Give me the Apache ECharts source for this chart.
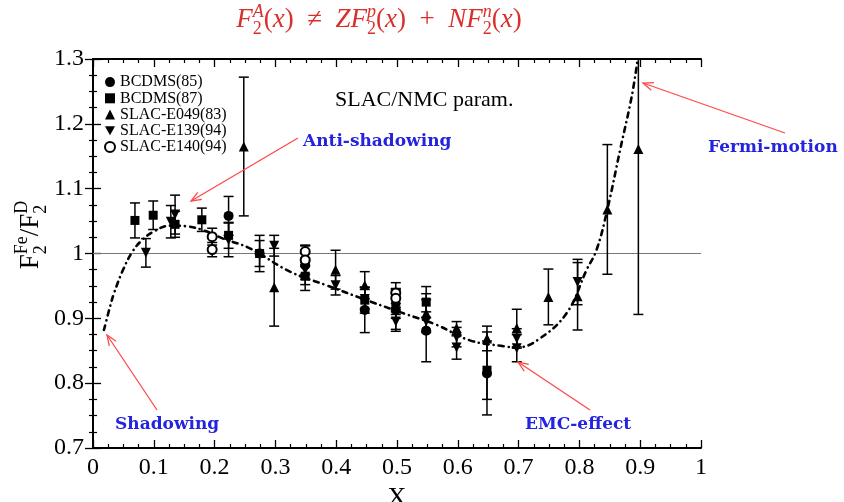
<!DOCTYPE html>
<html>
<head>
<meta charset="utf-8">
<script src="https://cdn.jsdelivr.net/npm/echarts@6/dist/echarts.min.js"></script>
<style>
  html, body { margin: 0; padding: 0; background: #fff; }
  #chart { width: 844px; height: 502px; }
</style>
</head>
<body>
<div id="chart"></div>
<script>
// Tick labels
const xTickLabels = ['0', '0.1', '0.2', '0.3', '0.4', '0.5', '0.6', '0.7', '0.8', '0.9', '1'];
const yTickLabels = ['0.7', '0.8', '0.9', '1', '1.1', '1.2', '1.3'];

// BCDMS(85)
const bcdms85X   = [0.223, 0.274, 0.349, 0.447, 0.498, 0.548, 0.648];
const bcdms85Y   = [1.058, 1.000, 0.982, 0.913, 0.913, 0.881, 0.815];
const bcdms85Err = [0.030, 0.028, 0.030, 0.035, 0.030, 0.048, 0.064];

// BCDMS(87)
const bcdms87X   = [0.069, 0.099, 0.135, 0.179, 0.223, 0.274, 0.349, 0.447, 0.498, 0.548, 0.648];
const bcdms87Y   = [1.051, 1.059, 1.045, 1.052, 1.028, 1.000, 0.965, 0.928, 0.926, 0.925, 0.820];
const bcdms87Err = [0.027, 0.022, 0.020, 0.018, 0.020, 0.020, 0.022, 0.020, 0.020, 0.024, 0.045];

// SLAC-E049(83)
const e049X   = [0.248, 0.298, 0.349, 0.399, 0.447, 0.498, 0.548, 0.598, 0.648, 0.697, 0.749, 0.797, 0.846, 0.897];
const e049Y   = [1.165, 0.948, 0.990, 0.975, 0.951, 0.920, 0.908, 0.885, 0.869, 0.885, 0.933, 0.934, 1.068, 1.161];
const e049Err = [0.107, 0.060, 0.022, 0.030, 0.021, 0.020, 0.030, 0.010, 0.019, 0.029, 0.043, 0.052, 0.100, 0.255];

// SLAC-E139(94)
const e139X   = [0.087, 0.135, 0.128, 0.223, 0.298, 0.349, 0.399, 0.447, 0.498, 0.548, 0.598, 0.598, 0.697, 0.697, 0.797];
const e139Y   = [1.001, 1.060, 1.049, 1.021, 1.012, 0.975, 0.951, 0.930, 0.895, 0.895, 0.871, 0.855, 0.869, 0.854, 0.956];
const e139Err = [0.022, 0.030, 0.025, 0.026, 0.016, 0.015, 0.015, 0.015, 0.015, 0.015, 0.015, 0.018, 0.015, 0.021, 0.035];

// SLAC-E140(94)
const e140X   = [0.196, 0.196, 0.349, 0.349, 0.498, 0.498];
const e140Y   = [1.026, 1.006, 1.003, 0.990, 0.939, 0.931];
const e140Err = [0.013, 0.011, 0.010, 0.010, 0.016, 0.014];

// SLAC/NMC parametrisation
const paramX = [0.018, 0.028, 0.035, 0.050, 0.065, 0.080, 0.100, 0.127, 0.154, 0.181, 0.214, 0.258,
                0.324, 0.384, 0.456, 0.510, 0.565, 0.620, 0.675, 0.697, 0.732, 0.779, 0.812, 0.828,
                0.846, 0.867, 0.886, 0.896];
const paramY = [0.882, 0.918, 0.940, 0.976, 1.003, 1.020, 1.034, 1.043, 1.042, 1.036, 1.023, 1.008,
                0.972, 0.951, 0.926, 0.908, 0.890, 0.866, 0.857, 0.855, 0.867, 0.908, 0.975, 1.005,
                1.068, 1.160, 1.242, 1.300];

const SERIF = '"Liberation Serif", "DejaVu Serif", serif';
const BOLDSERIF = '"DejaVu Serif", serif';

function pts(xs, ys) { return xs.map((x, i) => [x, ys[i]]); }
function bars(xs, ys, es) { return xs.map((x, i) => [x, ys[i] - es[i], ys[i] + es[i]]); }

function renderErr(params, api) {
  const x = api.value(0), lo = api.value(1), hi = api.value(2);
  const t = api.coord([x, hi]), b = api.coord([x, lo]);
  const hw = 5;
  const style = { stroke: '#000', lineWidth: 1.5, fill: null };
  return {
    type: 'group',
    children: [
      { type: 'line', shape: { x1: t[0], y1: t[1], x2: b[0], y2: b[1] }, style },
      { type: 'line', shape: { x1: t[0] - hw, y1: t[1], x2: t[0] + hw, y2: t[1] }, style },
      { type: 'line', shape: { x1: b[0] - hw, y1: b[1], x2: b[0] + hw, y2: b[1] }, style }
    ]
  };
}

function errSeries(xs, ys, es) {
  return {
    type: 'custom', renderItem: renderErr, clip: true, silent: true, z: 3,
    encode: { x: 0, y: [1, 2] }, data: bars(xs, ys, es)
  };
}

// text measurement for the composed formulas
const ctx = document.createElement('canvas').getContext('2d');
function fontStr(p, family) {
  return (p.i ? 'italic ' : '') + (p.b ? 'bold ' : '') + p.s + 'px ' + family;
}
function layoutPieces(pieces, family, color) {
  let x = 0, pendingW = null;
  const out = [];
  pieces.forEach(p => {
    const f = fontStr(p, family);
    ctx.font = f;
    const w = ctx.measureText(p.t).width;
    out.push({ p, f, x });
    if (p.stack) { pendingW = w; return; }
    if (pendingW !== null) { x += Math.max(w, pendingW); pendingW = null; }
    else x += w;
  });
  const total = x;
  return out.map(o => ({
    type: 'text',
    style: {
      text: o.p.t, font: o.f, fill: color,
      x: o.x - total / 2, y: (o.p.dy || 0) - 0.33 * o.p.s,
      align: 'left', verticalAlign: 'middle'
    }
  }));
}

const titlePieces = [
  { t: 'F', s: 27, i: true }, { t: 'A', s: 18, i: true, dy: -11, stack: true }, { t: '2', s: 18, dy: 6 },
  { t: '(', s: 27 }, { t: 'x', s: 27, i: true }, { t: ')', s: 27 },
  { t: '  \u2260  ', s: 27 },
  { t: 'Z', s: 27, i: true }, { t: 'F', s: 27, i: true }, { t: 'p', s: 18, i: true, dy: -11, stack: true }, { t: '2', s: 18, dy: 6 },
  { t: '(', s: 27 }, { t: 'x', s: 27, i: true }, { t: ')', s: 27 },
  { t: '  +  ', s: 27 },
  { t: 'N', s: 27, i: true }, { t: 'F', s: 27, i: true }, { t: 'n', s: 18, i: true, dy: -11, stack: true }, { t: '2', s: 18, dy: 6 },
  { t: '(', s: 27 }, { t: 'x', s: 27, i: true }, { t: ')', s: 27 }
];

const yNamePieces = [
  { t: 'F', s: 27 }, { t: 'Fe', s: 18, dy: -12, stack: true }, { t: '2', s: 18, dy: 7 },
  { t: '/F', s: 27 }, { t: 'D', s: 18, dy: -12, stack: true }, { t: '2', s: 18, dy: 7 }
];

function arrow(x1, y1, x2, y2) {
  const ang = Math.atan2(y2 - y1, x2 - x1);
  const L = 11, a = 0.38;
  const p1 = [x2 - L * Math.cos(ang - a), y2 - L * Math.sin(ang - a)];
  const p2 = [x2 - L * Math.cos(ang + a), y2 - L * Math.sin(ang + a)];
  const style = { stroke: '#ff4a4a', lineWidth: 1.3, fill: null };
  return [
    { type: 'line', shape: { x1, y1, x2, y2 }, style, z: 50 },
    { type: 'polyline', shape: { points: [p1, [x2, y2], p2] }, style, z: 50 }
  ];
}

function note(text, x, y) {
  return {
    type: 'text', z: 50,
    style: { text, x, y, font: 'bold 17px ' + BOLDSERIF, fill: '#2323e0', align: 'left', verticalAlign: 'middle' }
  };
}

const axisCommon = {
  axisLine: { lineStyle: { color: '#000', width: 2 } },
  axisTick: { inside: true, length: 8, lineStyle: { color: '#000', width: 1.3 } },
  minorTick: { show: true, splitNumber: 4, length: 4, lineStyle: { color: '#000', width: 1.2 } },
  splitLine: { show: false }
};

const chart = echarts.init(document.getElementById('chart'));
chart.setOption({
  backgroundColor: '#fff',
  animation: false,
  grid: { left: 93, right: 143, top: 59, bottom: 54, containLabel: false, outerBoundsMode: 'none' },
  xAxis: [
    Object.assign({
      type: 'value', min: 0, max: 1, interval: 0.1, position: 'bottom',
      name: 'X', nameLocation: 'middle', nameGap: 28,
      nameTextStyle: { fontFamily: SERIF, fontSize: 26, color: '#000' },
      axisLabel: {
        margin: 8, fontFamily: SERIF, fontSize: 24, color: '#000',
        formatter: v => xTickLabels[Math.round(v * 10)]
      }
    }, axisCommon),
    Object.assign({
      type: 'value', min: 0, max: 1, interval: 0.1, position: 'top',
      axisLabel: { show: false }
    }, axisCommon)
  ],
  yAxis: [
    Object.assign({
      type: 'value', min: 0.7, max: 1.3, interval: 0.1, position: 'left',
      axisLabel: {
        margin: 9, fontFamily: SERIF, fontSize: 24, color: '#000',
        formatter: v => yTickLabels[Math.round((v - 0.7) * 10)]
      }
    }, axisCommon),
    Object.assign({
      type: 'value', min: 0.7, max: 1.3, interval: 0.1, position: 'right',
      axisLabel: { show: false }
    }, axisCommon)
  ],
  legend: {
    orient: 'vertical', left: 104, top: 74, itemWidth: 10, itemHeight: 10, itemGap: 0, padding: 0,
    textStyle: { fontFamily: SERIF, fontSize: 16, lineHeight: 16.2, color: '#000' },
    data: ['BCDMS(85)', 'BCDMS(87)', 'SLAC-E049(83)', 'SLAC-E139(94)', 'SLAC-E140(94)']
  },
  series: [
    {
      type: 'line', silent: true, symbol: 'none', z: 1,
      data: [[0, 1], [1, 1]],
      lineStyle: { color: '#777', width: 1.2 }
    },
    {
      type: 'line', name: 'SLAC/NMC param.', silent: true, symbol: 'none', smooth: 0.4, z: 2,
      data: pts(paramX, paramY),
      lineStyle: { color: '#000', width: 2.6, type: [5, 5, 0.1, 5], cap: 'round' }
    },
    errSeries(bcdms85X, bcdms85Y, bcdms85Err),
    errSeries(bcdms87X, bcdms87Y, bcdms87Err),
    errSeries(e049X, e049Y, e049Err),
    errSeries(e139X, e139Y, e139Err),
    errSeries(e140X, e140Y, e140Err),
    {
      type: 'scatter', name: 'BCDMS(85)', symbol: 'circle', symbolSize: 10, z: 5,
      itemStyle: { color: '#000', opacity: 1 }, data: pts(bcdms85X, bcdms85Y)
    },
    {
      type: 'scatter', name: 'BCDMS(87)', symbol: 'rect', symbolSize: 9, z: 5,
      itemStyle: { color: '#000', opacity: 1 }, data: pts(bcdms87X, bcdms87Y)
    },
    {
      type: 'scatter', name: 'SLAC-E049(83)', symbol: 'triangle', symbolSize: 10, z: 5,
      itemStyle: { color: '#000', opacity: 1 }, data: pts(e049X, e049Y)
    },
    {
      type: 'scatter', name: 'SLAC-E139(94)', symbol: 'path://M0,0L10,0L5,9Z', symbolSize: 10, z: 5,
      itemStyle: { color: '#000', opacity: 1 }, data: pts(e139X, e139Y)
    },
    {
      type: 'scatter', name: 'SLAC-E140(94)', symbol: 'emptyCircle', symbolSize: 9, z: 5,
      itemStyle: { color: '#000', borderColor: '#000', borderWidth: 1.6, opacity: 1 }, data: pts(e140X, e140Y)
    }
  ],
  graphic: [
    { type: 'group', x: 379, y: 29, children: layoutPieces(titlePieces, SERIF, '#d9302c') },
    { type: 'group', x: 40, y: 235, rotation: Math.PI / 2, children: layoutPieces(yNamePieces, SERIF, '#000') },
    {
      type: 'text', z: 50,
      style: { text: 'SLAC/NMC param.', x: 335, y: 100, font: '22px ' + SERIF, fill: '#000', align: 'left', verticalAlign: 'middle' }
    },
    note('Anti-shadowing', 303, 142),
    note('Fermi-motion', 708, 148),
    note('Shadowing', 115, 425),
    note('EMC-effect', 525, 425),
    ...arrow(298, 138, 191, 201),
    ...arrow(785, 133, 643, 83),
    ...arrow(157, 410, 107, 335),
    ...arrow(590, 410, 518, 362)
  ]
});
</script>
</body>
</html>
